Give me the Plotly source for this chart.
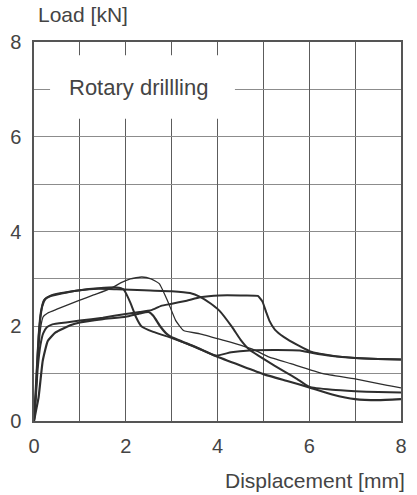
import plotly.graph_objects as go

# Load-displacement records, rotary drilling (displacement in mm, load in kN)
disp_1 = [0, 0.04, 0.08, 0.12, 0.18, 0.25, 0.35, 0.6, 1.0, 1.4, 1.8, 1.95, 2.1, 2.22, 2.34, 2.6, 2.95,
          3.5, 3.96, 4.3, 4.7, 5.3, 5.8, 6.05, 6.5, 7.0, 7.5, 8.0]
load_1 = [0, 0.6, 1.4, 2.0, 2.42, 2.58, 2.64, 2.7, 2.76, 2.8, 2.82, 2.78, 2.5, 2.2, 2.0, 1.88, 1.77,
          1.57, 1.38, 1.45, 1.49, 1.5, 1.49, 1.44, 1.37, 1.33, 1.31, 1.30]

disp_2 = [0, 0.05, 0.1, 0.15, 0.22, 0.35, 0.6, 1.0, 1.4, 1.8, 2.4, 3.0, 3.4, 3.62, 3.85, 4.04, 4.32,
          4.5, 4.68, 4.89, 5.24, 5.5, 5.73, 6.0, 6.5, 7.0, 7.5, 8.0]
load_2 = [0, 0.9, 1.8, 2.3, 2.55, 2.63, 2.69, 2.76, 2.79, 2.78, 2.76, 2.74, 2.7, 2.62, 2.48, 2.33, 1.98,
          1.72, 1.52, 1.38, 1.17, 1.02, 0.89, 0.72, 0.66, 0.63, 0.61, 0.60]

disp_3 = [0, 0.05, 0.1, 0.15, 0.2, 0.3, 0.5, 0.97, 1.3, 1.68, 1.9, 2.1, 2.35, 2.55, 2.73, 2.91, 3.09,
          3.26, 3.62, 4.1, 4.5, 4.8, 5.1, 5.6, 6.3, 7.0, 7.7, 8.0]
load_3 = [0, 0.7, 1.5, 2.0, 2.2, 2.28, 2.36, 2.54, 2.66, 2.8, 2.92, 3.0, 3.04, 3.0, 2.9, 2.54, 2.12,
          1.91, 1.84, 1.71, 1.6, 1.5, 1.36, 1.21, 1.0, 0.89, 0.75, 0.70]

disp_4 = [0, 0.04, 0.08, 0.14, 0.2, 0.28, 0.4, 0.7, 1.0, 1.5, 2.0, 2.3, 2.56, 2.77, 2.98, 3.33, 3.62,
          4.04, 4.5, 4.88, 4.98, 5.06, 5.13, 5.25, 5.45, 5.75, 6.02, 6.5, 7.0, 7.5, 8.0]
load_4 = [0, 0.5, 1.1, 1.6, 1.85, 1.98, 2.04, 2.08, 2.12, 2.18, 2.26, 2.3, 2.34, 2.43, 2.47, 2.54, 2.61,
          2.65, 2.65, 2.64, 2.52, 2.3, 2.12, 1.93, 1.77, 1.6, 1.47, 1.38, 1.33, 1.31, 1.30]

disp_5 = [0, 0.05, 0.1, 0.19, 0.3, 0.47, 0.79, 1.0, 1.5, 2.0, 2.3, 2.5, 2.6, 2.75, 2.88, 2.98, 3.5,
          3.96, 4.5, 5.0, 5.5, 6.0, 6.5, 7.0, 7.5, 8.0]
load_5 = [0, 0.25, 0.5, 1.27, 1.69, 1.87, 2.02, 2.08, 2.15, 2.2, 2.27, 2.3, 2.22, 2.0, 1.85, 1.78, 1.57,
          1.37, 1.17, 0.99, 0.85, 0.71, 0.56, 0.46, 0.44, 0.46]

series = [
    (disp_1, load_1, 2.0),
    (disp_2, load_2, 2.0),
    (disp_3, load_3, 1.3),
    (disp_4, load_4, 2.0),
    (disp_5, load_5, 2.2),
]

x_ticks = [0, 2, 4, 6, 8]
y_ticks = [0, 2, 4, 6, 8]

INK = "#2e2e2e"
TEXT = "#444444"
FONT = "Liberation Sans, Arial, sans-serif"

fig = go.Figure()
for x, y, w in series:
    fig.add_trace(go.Scatter(
        x=x, y=y, mode="lines",
        line=dict(color=INK, width=w, shape="spline", smoothing=0.4),
        hoverinfo="skip", showlegend=False,
    ))

# White panel behind the chart label, interrupting the grid
fig.add_shape(type="rect", xref="x", yref="y", x0=0.35, x1=4.38, y0=6.38, y1=7.72,
              fillcolor="white", line=dict(width=0), layer="between")

fig.add_annotation(x=2.27, y=7.05, xref="x", yref="y", text="Rotary drillling",
                   showarrow=False, font=dict(family=FONT, size=22, color=TEXT))
fig.add_annotation(x=0.005, y=1.073, xref="paper", yref="paper", text="Load [kN]",
                   showarrow=False, xanchor="left", yanchor="middle",
                   font=dict(family=FONT, size=21, color=TEXT))
fig.add_annotation(x=1.016, y=-0.157, xref="paper", yref="paper", text="Displacement [mm]",
                   showarrow=False, xanchor="right", yanchor="middle",
                   font=dict(family=FONT, size=21, color=TEXT))

fig.update_xaxes(range=[0, 8], tickvals=x_ticks, ticktext=[str(v) for v in x_ticks],
                 showgrid=True, gridcolor="#5c5c5c", gridwidth=1.2,
                 minor=dict(dtick=1, showgrid=True, gridcolor="#5c5c5c", gridwidth=1.2),
                 showline=True, linecolor="#555555", linewidth=1.5, mirror=True,
                 zeroline=False, ticks="", ticklabelstandoff=6,
                 tickfont=dict(family=FONT, size=20, color=TEXT), fixedrange=True)
fig.update_yaxes(range=[0, 8], tickvals=y_ticks, ticktext=[str(v) for v in y_ticks],
                 showgrid=True, gridcolor="#8c8c8c", gridwidth=1.2,
                 minor=dict(dtick=1, showgrid=True, gridcolor="#8c8c8c", gridwidth=1.2),
                 showline=True, linecolor="#555555", linewidth=1.5, mirror=True,
                 zeroline=False, ticks="", ticklabelstandoff=7,
                 tickfont=dict(family=FONT, size=20, color=TEXT), fixedrange=True)

fig.update_layout(
    width=417, height=495,
    margin=dict(l=29, r=10, t=42, b=74),
    paper_bgcolor="white", plot_bgcolor="white",
)

fig.write_html("out.html")
